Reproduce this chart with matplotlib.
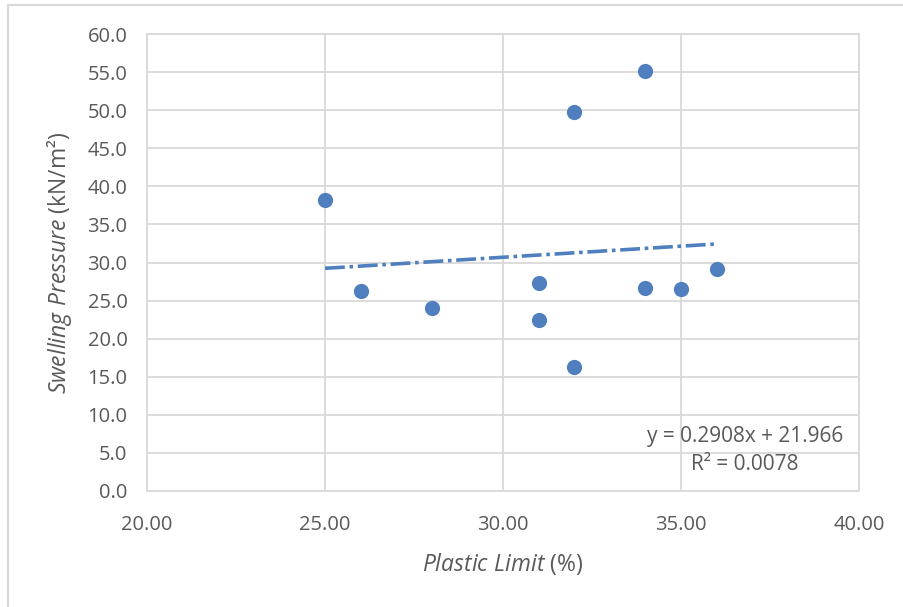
import matplotlib
matplotlib.use("Agg")
import matplotlib.pyplot as plt
import numpy as np
from matplotlib.lines import Line2D

plastic_limit = [25, 26, 28, 31, 31, 32, 32, 34, 34, 35, 36]
swelling_pressure = [38.2, 26.2, 24.0, 27.3, 22.5, 49.7, 16.3, 55.2, 26.6, 26.5, 29.2]
trend_coef = [0.2908, 21.966]
r_squared = 0.0078
x_ticks = [20, 25, 30, 35, 40]
y_ticks = [0, 5, 10, 15, 20, 25, 30, 35, 40, 45, 50, 55, 60]

plt.rcParams['font.family'] = ['Open Sans', 'DejaVu Sans']
plt.rcParams['mathtext.fontset'] = 'custom'
plt.rcParams['mathtext.it'] = 'Open Sans:italic'
plt.rcParams['mathtext.rm'] = 'Open Sans'

W, H = 904, 607
fig = plt.figure(figsize=(W / 100, H / 100), dpi=100)
ax = fig.add_axes([147 / W, 1 - 491 / H, (859 - 147) / W, (491 - 34) / H])

blue = '#4F7FBE'
grid_c = '#D9D9D9'
text_c = '#595959'

ax.set_xlim(20, 40)
ax.set_ylim(0, 60)
ax.set_xticks(x_ticks)
ax.set_yticks(y_ticks)
ax.set_xticklabels([f"{v:.2f}" for v in x_ticks])
ax.set_yticklabels([f"{v:.1f}" for v in y_ticks])
ax.grid(True, color=grid_c, linewidth=1.3)
ax.set_axisbelow(True)
for s in ax.spines.values():
    s.set_color(grid_c)
    s.set_linewidth(1.3)
ax.tick_params(axis='y', length=0, labelsize=14.5, colors=text_c, pad=14)
ax.tick_params(axis='x', length=0, labelsize=14.5, colors=text_c, pad=17)

xs = np.array([min(plastic_limit), max(plastic_limit)], dtype=float)
ax.plot(xs, np.polyval(trend_coef, xs), color=blue, linewidth=2.6,
        linestyle=(0, (5.5, 1.3, 1, 1.3)), zorder=2)
ax.scatter(plastic_limit, swelling_pressure, s=120, color=blue, zorder=3,
           linewidths=0)

ax.text(36.8, 5.3, f"y = {trend_coef[0]}x + {trend_coef[1]}\nR² = {r_squared}",
        ha='center', va='center', fontsize=15, color=text_c, linespacing=1.4)

ax.set_xlabel(r"$\mathit{Plastic\ Limit}$ (%)", fontsize=16.5, color=text_c, labelpad=12)
ax.set_ylabel(r"$\mathit{Swelling\ Pressure}$ (kN/m²)", fontsize=16.5, color=text_c, labelpad=10)

# outer chart border (top and left)
fig.add_artist(Line2D([8 / W, 8 / W], [0, 1 - 5 / H], transform=fig.transFigure,
                      color=grid_c, linewidth=1.5))
fig.add_artist(Line2D([8 / W, 1], [1 - 5 / H, 1 - 5 / H], transform=fig.transFigure,
                      color=grid_c, linewidth=1.5))

fig.savefig("out.png", dpi=100)
